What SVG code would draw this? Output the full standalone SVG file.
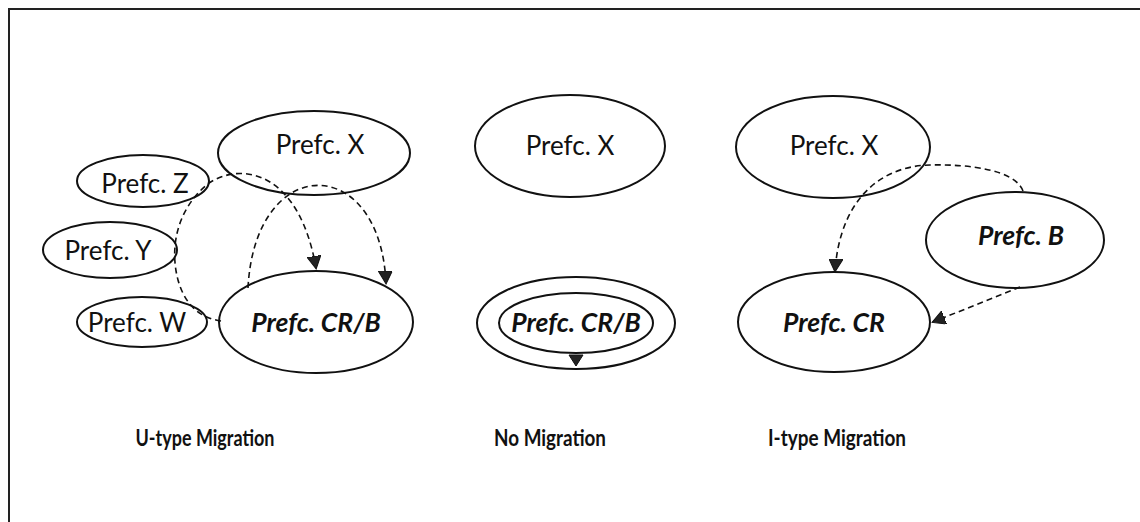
<svg xmlns="http://www.w3.org/2000/svg" width="1140" height="522" viewBox="0 0 1140 522">
  <style>
    .node { fill: #ffffff; stroke: #111111; stroke-width: 2; }
    .lbl { font-family: Lato, "Open Sans", sans-serif; font-size: 26px; fill: #111111; text-anchor: middle; }
    .key { font-weight: bold; font-style: italic; font-size: 26.5px; }
    .cap { font-family: Lato, "Open Sans", sans-serif; font-size: 22px; font-weight: bold; fill: #111111; text-anchor: middle; }
    .flow { fill: none; stroke: #111111; stroke-width: 1.6; stroke-dasharray: 6 4; }
  </style>
  <defs>
    <marker id="tri" markerWidth="14" markerHeight="14" refX="12" refY="7" orient="auto" markerUnits="userSpaceOnUse">
      <path d="M0,0 L13,7 L0,14 Z" fill="#222222" stroke="#111111" stroke-width="1"/>
    </marker>
  </defs>

  <!-- outer frame -->
  <rect x="9" y="9" width="1160" height="540" fill="none" stroke="#222222" stroke-width="2"/>

  <!-- U-type column -->
  <g id="u-x"><ellipse class="node" cx="314" cy="153" rx="96" ry="42"/><text class="lbl" x="320" y="154">Prefc. X</text></g>
  <g id="u-z"><ellipse class="node" cx="143" cy="181" rx="66" ry="26"/><text class="lbl" x="145" y="193">Prefc. Z</text></g>
  <g id="u-y"><ellipse class="node" cx="110" cy="250" rx="67" ry="28"/><text class="lbl" x="108" y="260">Prefc. Y</text></g>
  <g id="u-w"><ellipse class="node" cx="142" cy="322" rx="65" ry="25"/><text class="lbl" x="137" y="332">Prefc. W</text></g>
  <g id="u-crb"><ellipse class="node" cx="316" cy="322" rx="97" ry="51"/><text class="lbl key" x="316" y="332">Prefc. CR/B</text></g>

  <!-- No-migration column -->
  <g id="n-x"><ellipse class="node" cx="570" cy="146" rx="95" ry="51"/><text class="lbl" x="570" y="155">Prefc. X</text></g>
  <g id="n-crb">
    <ellipse class="node" cx="576" cy="323" rx="99" ry="46"/>
    <ellipse class="node" cx="576" cy="323" rx="77" ry="30"/>
    <text class="lbl key" x="576" y="332">Prefc. CR/B</text>
    <path d="M569,355 L583,355 L576,366 Z" fill="#222222" stroke="#111111" stroke-width="1"/>
  </g>

  <!-- I-type column -->
  <g id="i-x"><ellipse class="node" cx="833" cy="147" rx="97" ry="51"/><text class="lbl" x="834" y="155">Prefc. X</text></g>
  <g id="i-b"><ellipse class="node" cx="1015" cy="240" rx="89" ry="48"/><text class="lbl key" x="1021" y="245">Prefc. B</text></g>
  <g id="i-cr"><ellipse class="node" cx="834" cy="322" rx="96" ry="50"/><text class="lbl key" x="834" y="332">Prefc. CR</text></g>

  <!-- connectors -->
  <g id="connectors">
    <path class="flow" d="M221,321 C200,318 185,305 178,280 C170,250 175,210 209,183 C245,160 300,175 316,268" marker-end="url(#tri)"/>
    <path class="flow" d="M248,288 C255,152 380,152 386,283" marker-end="url(#tri)"/>
    <path class="flow" d="M1023,191 C1015,170 970,164 930,165 C880,166 840,200 835,271" marker-end="url(#tri)"/>
    <path class="flow" d="M1020,287 L933,322" marker-end="url(#tri)"/>
  </g>

  <!-- captions -->
  <g id="captions">
    <text class="cap" x="205" y="446" textLength="139" lengthAdjust="spacingAndGlyphs">U-type Migration</text>
    <text class="cap" x="550" y="446" textLength="112" lengthAdjust="spacingAndGlyphs">No Migration</text>
    <text class="cap" x="837" y="446" textLength="138" lengthAdjust="spacingAndGlyphs">I-type Migration</text>
  </g>
</svg>
